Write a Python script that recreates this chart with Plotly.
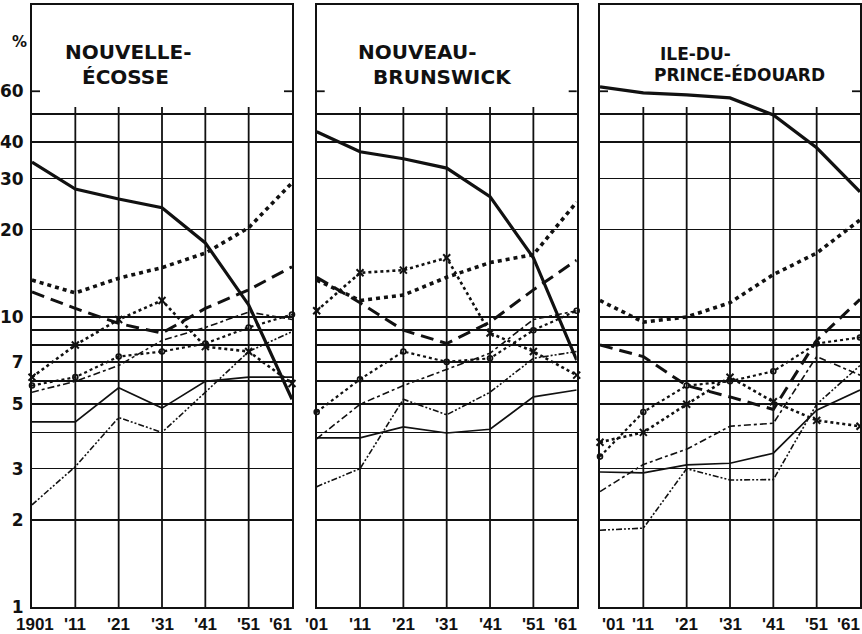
import math
import plotly.graph_objects as go

# ---------------- data ----------------
YEARS = [1901, 1911, 1921, 1931, 1941, 1951, 1961]
X_LABELS_FIRST = ["1901", "'11", "'21", "'31", "'41", "'51", "'61"]
X_LABELS_OTHER = ["'01", "'11", "'21", "'31", "'41", "'51", "'61"]
Y_TICK_VALUES = [1, 2, 3, 5, 7, 10, 20, 30, 40, 60]
Y_TICK_LABELS = ["1", "2", "3", "5", "7", "10", "20", "30", "40", "60"]
GRID_VALUES = [2, 3, 4, 5, 6, 7, 8, 9, 10, 20, 30, 40, 50]
GRID_TOP_VALUE = 53
SIDE_TICK_VALUE = 60
Y_TOP_VALUE = 119

PANEL_TITLES = [
    ["NOUVELLE-", "ÉCOSSE"],
    ["NOUVEAU-", "BRUNSWICK"],
    ["ILE-DU-", "PRINCE-ÉDOUARD"],
]

# Nouvelle-Écosse
ns_solid_thick = [34.2, 27.6, 25.5, 23.8, 18.0, 11.0, 5.2]
ns_dotted = [13.4, 12.1, 13.6, 14.8, 16.6, 20.3, 29.0]
ns_dashed = [12.2, 10.7, 9.5, 8.8, 10.7, 12.4, 14.9]
ns_crosses = [6.2, 8.0, 9.8, 11.4, 7.9, 7.6, 5.9]
ns_a_dash = [5.5, 6.0, 6.8, 8.3, 9.2, 10.4, 9.8]
ns_circles = [5.8, 6.2, 7.3, 7.6, 8.1, 9.2, 10.2]
ns_thin = [4.35, 4.35, 5.7, 4.85, 6.0, 6.2, 6.2]
ns_ii_dash = [2.25, 3.05, 4.5, 4.0, 5.5, 7.6, 8.9]

# Nouveau-Brunswick
nb_solid_thick = [43.5, 37.1, 35.1, 32.6, 26.0, 16.0, 7.1]
nb_dotted = [13.4, 11.4, 11.9, 13.7, 15.4, 16.4, 24.9]
nb_dashed = [13.7, 11.2, 9.0, 8.1, 9.6, 12.4, 15.7]
nb_crosses = [10.5, 14.2, 14.5, 16.0, 8.8, 7.6, 6.3]
nb_a_dash = [3.8, 5.0, 5.8, 6.6, 7.5, 9.8, 10.5]
nb_circles = [4.7, 6.1, 7.6, 7.0, 7.2, 9.0, 10.5]
nb_thin = [3.83, 3.83, 4.18, 3.98, 4.1, 5.3, 5.6]
nb_ii_dash = [2.6, 3.0, 5.2, 4.6, 5.5, 7.2, 7.6]

# Ile-du-Prince-Édouard
pe_solid_thick = [62.1, 59.2, 58.3, 56.9, 49.7, 38.3, 27.0]
pe_dotted = [11.4, 9.6, 10.0, 11.2, 14.0, 16.6, 21.6]
pe_dashed = [8.0, 7.3, 5.8, 5.3, 4.8, 8.3, 11.5]
pe_crosses = [3.7, 4.0, 5.0, 6.2, 5.1, 4.4, 4.2]
pe_a_dash = [2.5, 3.1, 3.5, 4.2, 4.3, 7.3, 6.3]
pe_circles = [3.3, 4.7, 5.8, 6.0, 6.5, 8.1, 8.5]
pe_thin = [2.92, 2.9, 3.09, 3.13, 3.39, 4.77, 5.6]
pe_ii_dash = [1.84, 1.87, 3.0, 2.74, 2.75, 5.0, 6.8]

PANEL_SERIES = [
    [ns_solid_thick, ns_dotted, ns_dashed, ns_crosses, ns_a_dash, ns_circles, ns_thin, ns_ii_dash],
    [nb_solid_thick, nb_dotted, nb_dashed, nb_crosses, nb_a_dash, nb_circles, nb_thin, nb_ii_dash],
    [pe_solid_thick, pe_dotted, pe_dashed, pe_crosses, pe_a_dash, pe_circles, pe_thin, pe_ii_dash],
]
PANEL_X_LABELS = [X_LABELS_FIRST, X_LABELS_OTHER, X_LABELS_OTHER]

# ---------------- styles ----------------
INK = "#111111"
STYLES = [
    dict(mode="lines", line=dict(width=3.2, dash="solid")),
    dict(mode="lines", line=dict(width=3.6, dash="4px,4px")),
    dict(mode="lines", line=dict(width=3.0, dash="13px,7px")),
    dict(mode="lines+markers", line=dict(width=2.6, dash="3px,3px"),
         marker=dict(symbol="x-thin", size=7, line=dict(width=2, color=INK))),
    dict(mode="lines", line=dict(width=1.6, dash="7px,3px,3px,3px")),
    dict(mode="lines+markers", line=dict(width=2.2, dash="3px,3px"),
         marker=dict(symbol="circle-open", size=5, line=dict(width=1.6, color=INK))),
    dict(mode="lines", line=dict(width=1.7, dash="solid")),
    dict(mode="lines", line=dict(width=1.6, dash="6px,2px,2px,2px,2px,2px")),
]

W, H = 862, 634
ML, MR, MT, MB = 32, 2, 5, 27
PW = W - ML - MR
PH = H - MT - MB
PANEL_LEFT_PX = [32, 316.7, 600]
PANEL_WIDTH_PX = 260
TITLE_POS = [  # (left px, centre y px) for each of the two lines
    [(63, 52), (80, 77)],
    [(356, 52), (371, 77)],
    [(658, 54), (652, 74)],
]
TITLE_SIZES = [20, 20, 17]
# horizontal anchoring of the first / last year label in each panel
FIRST_ANCHOR = ["center", "center", "left"]
LAST_ANCHOR = ["right", "right", "right"]

ytop_log = math.log10(Y_TOP_VALUE)
FONT = "DejaVu Sans"
XFONT = "Liberation Sans"

fig = go.Figure()

for p, series_list in enumerate(PANEL_SERIES):
    sfx = "" if p == 0 else str(p + 1)
    for series, st in zip(series_list, STYLES):
        line = dict(st["line"])
        line["color"] = INK
        kw = dict(x=YEARS, y=series, mode=st["mode"], line=line,
                  xaxis="x" + sfx, yaxis="y" + sfx, showlegend=False,
                  hoverinfo="skip", cliponaxis=False)
        if "marker" in st:
            m = dict(st["marker"])
            m["color"] = INK
            kw["marker"] = m
        fig.add_trace(go.Scatter(**kw))

layout = dict(
    width=W, height=H,
    margin=dict(l=ML, r=MR, t=MT, b=MB, pad=0, autoexpand=False),
    paper_bgcolor="white", plot_bgcolor="white",
    showlegend=False,
)

shapes = []
annotations = []
frac_grid_top = math.log10(GRID_TOP_VALUE) / ytop_log
frac_side = math.log10(SIDE_TICK_VALUE) / ytop_log
tick_len = 8 / PANEL_WIDTH_PX

for p in range(3):
    sfx = "" if p == 0 else str(p + 1)
    left = (PANEL_LEFT_PX[p] - ML) / PW
    right = (PANEL_LEFT_PX[p] + PANEL_WIDTH_PX - ML) / PW
    layout["xaxis" + sfx] = dict(
        domain=[left, min(right, 1.0)], range=[YEARS[0], YEARS[-1]],
        anchor="y" + sfx,
        tickmode="array", tickvals=YEARS, showticklabels=False,
        ticks="", automargin=False,
        showgrid=False, zeroline=False,
        showline=True, mirror=True, linecolor=INK, linewidth=2,
        fixedrange=True,
    )
    layout["yaxis" + sfx] = dict(
        type="log", range=[0, ytop_log], anchor="x" + sfx,
        domain=[0, 1], automargin=False,
        tickmode="array", tickvals=Y_TICK_VALUES, ticktext=Y_TICK_LABELS,
        showticklabels=(p == 0),
        tickfont=dict(family=FONT, size=17, color=INK, weight="bold"),
        ticks="", ticklabelstandoff=3,
        showgrid=False, zeroline=False,
        minor=dict(tickmode="array", tickvals=GRID_VALUES, showgrid=True,
                   gridcolor=INK, gridwidth=1.7, ticks=""),
        showline=True, mirror=True, linecolor=INK, linewidth=2,
        fixedrange=True,
    )
    # year labels under each panel, placed through the panel's x axis
    labels = PANEL_X_LABELS[p]
    for i, (yr, txt) in enumerate(zip(YEARS, labels)):
        anchor = "center"
        xshift = 0
        if i == 0:
            anchor = FIRST_ANCHOR[p]
            xshift = 3 if p == 0 else 0
        elif i == len(YEARS) - 1:
            anchor = LAST_ANCHOR[p]
            xshift = 2
        annotations.append(dict(
            xref="x" + sfx, yref="paper", x=yr, y=0,
            xanchor=anchor, yanchor="top", xshift=xshift, yshift=-6,
            showarrow=False, text=txt,
            font=dict(family=XFONT, size=17, color=INK, weight="bold"),
        ))
    # vertical grid lines (stop short of the top)
    for yr in YEARS[1:-1]:
        shapes.append(dict(type="line", xref="x" + sfx, yref="y" + sfx + " domain",
                           x0=yr, x1=yr, y0=0, y1=frac_grid_top,
                           line=dict(color=INK, width=1.8), layer="below"))
    # short side ticks at 60
    for x0, x1 in [(0, tick_len), (1 - tick_len, 1)]:
        shapes.append(dict(type="line", xref="x" + sfx + " domain", yref="y" + sfx + " domain",
                           x0=x0, x1=x1, y0=frac_side, y1=frac_side,
                           line=dict(color=INK, width=1.8), layer="below"))
    # titles
    for (lx, cy), txt in zip(TITLE_POS[p], PANEL_TITLES[p]):
        annotations.append(dict(
            xref="paper", yref="paper",
            x=(lx - ML) / PW, y=(H - MB - cy) / PH,
            xanchor="left", yanchor="middle", showarrow=False,
            text=txt,
            font=dict(family=FONT, size=TITLE_SIZES[p], color=INK, weight="bold"),
        ))

annotations.append(dict(
    xref="paper", yref="paper", x=(19 - ML) / PW, y=(H - MB - 42) / PH,
    xanchor="center", yanchor="middle", showarrow=False, text="%",
    font=dict(family=FONT, size=15, color=INK, weight="bold"),
))

layout["shapes"] = shapes
layout["annotations"] = annotations
fig.update_layout(**layout)

fig.write_html(
    "out.html",
    config={"displayModeBar": False, "staticPlot": True},
    post_script=(
        "document.body.style.margin='0px';"
        "document.body.style.overflow='hidden';"
        "document.documentElement.style.overflow='hidden';"
    ),
)
